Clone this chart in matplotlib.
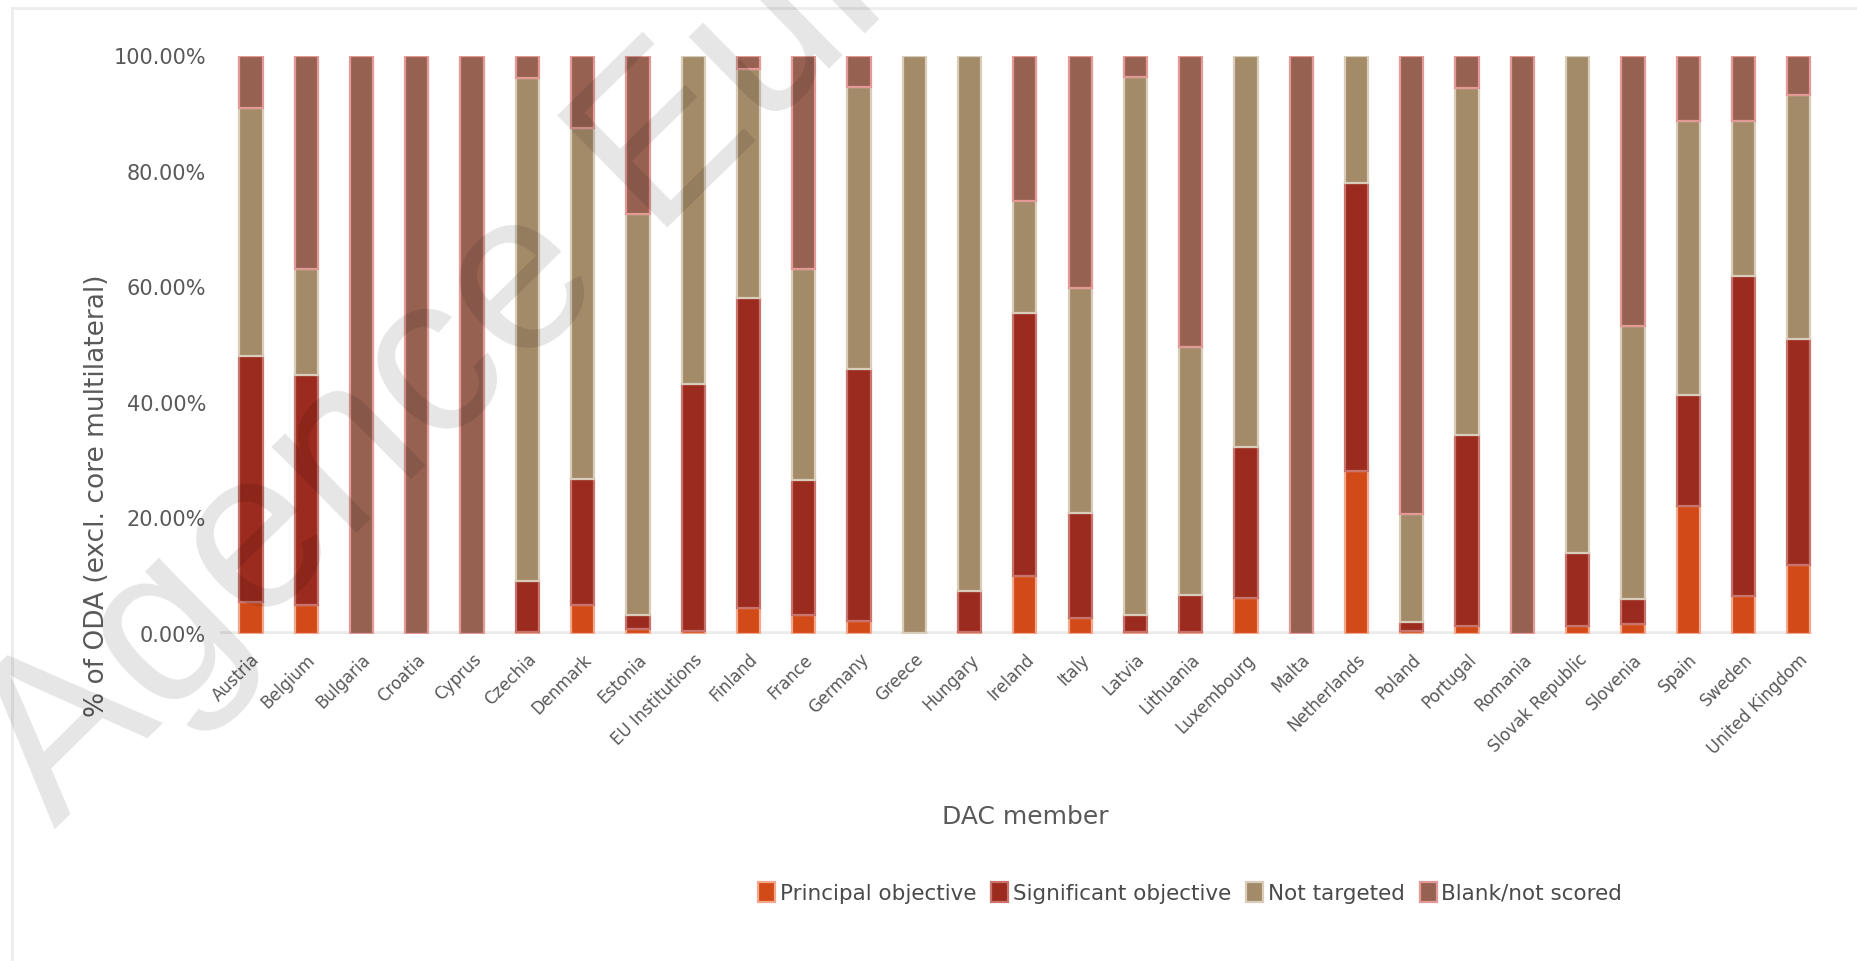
import matplotlib
matplotlib.use("Agg")
import matplotlib.pyplot as plt
from matplotlib.lines import Line2D
from matplotlib.patches import Patch
import numpy as np

countries = ["Austria", "Belgium", "Bulgaria", "Croatia", "Cyprus", "Czechia",
             "Denmark", "Estonia", "EU Institutions", "Finland", "France",
             "Germany", "Greece", "Hungary", "Ireland", "Italy", "Latvia",
             "Lithuania", "Luxembourg", "Malta", "Netherlands", "Poland",
             "Portugal", "Romania", "Slovak Republic", "Slovenia", "Spain",
             "Sweden", "United Kingdom"]

# shares of ODA (%) by marker score
principal = [5.5, 5.1, 0, 0, 0, 0.3, 5.1, 0.8, 0.6, 4.5, 3.3, 2.2, 0.2, 0.3,
             10.0, 2.7, 0.3, 0.3, 6.2, 0, 28.2, 0.5, 1.3, 0, 1.3, 1.7, 22.2,
             6.5, 11.9]
significant = [42.6, 39.7, 0, 0, 0, 8.9, 21.8, 2.5, 42.6, 53.7, 23.4, 43.7,
               0, 7.2, 45.5, 18.3, 3.0, 6.4, 26.1, 0, 49.9, 1.5, 33.2, 0,
               12.8, 4.4, 19.2, 55.5, 39.2]
not_targeted = [42.9, 18.3, 0, 0, 0, 87.0, 60.6, 69.4, 56.8, 39.6, 36.4,
                48.8, 99.8, 92.5, 19.5, 38.9, 93.1, 42.9, 67.7, 0, 21.9,
                18.7, 59.9, 0, 85.9, 47.2, 47.3, 26.7, 42.2]
blank = [9.0, 36.9, 100, 100, 100, 3.8, 12.5, 27.3, 0, 2.2, 36.9, 5.3, 0, 0,
         25.0, 40.1, 3.6, 50.4, 0, 100, 0, 79.3, 5.6, 100, 0, 46.7, 11.3,
         11.3, 6.7]

series_names = ["Principal objective", "Significant objective",
                "Not targeted", "Blank/not scored"]
series_colors = ["#D24A18", "#9C2B1F", "#A38B69", "#966151"]
edge_colors = ["#F2A88C", "#C8736B", "#D9CDBA", "#E39A96"]
y_ticks = [0, 20, 40, 60, 80, 100]

W, H = 1857, 961
fig = plt.figure(figsize=(W / 100, H / 100), dpi=100)
ax = fig.add_axes([220 / W, 1 - 634 / H, (1812 - 220) / W, (634 - 56) / H])

x = np.arange(len(countries))
bottom = np.zeros(len(countries))
for vals, color, ec in zip([principal, significant, not_targeted, blank],
                           series_colors, edge_colors):
    vals = np.asarray(vals, dtype=float)
    ax.bar(x, vals / 100, width=0.42, bottom=bottom / 100, color=color,
           edgecolor=ec, linewidth=[1.6 if v > 0 else 0 for v in vals],
           zorder=2)
    bottom += vals

ax.set_xlim(-0.56, 28.24)
ax.set_ylim(0, 1)
for s in ax.spines.values():
    s.set_visible(False)
ax.axhline(0, color="#EBEBEB", lw=4, zorder=1)

ax.set_yticks([t / 100 for t in y_ticks])
ax.set_yticklabels([f"{t:.2f}%" for t in y_ticks])
ax.tick_params(axis="y", length=0, pad=10, labelsize=15, labelcolor="#595959")
ax.set_xticks(x)
ax.set_xticklabels(countries, rotation=45, ha="right", rotation_mode="anchor")
ax.tick_params(axis="x", length=0, pad=12, labelsize=12, labelcolor="#595959")

fig.text(97 / W, 1 - 496 / H, "% of ODA (excl. core multilateral)",
         rotation=90, ha="center", va="center", fontsize=19, color="#595959")
fig.text(1025 / W, 1 - 817 / H, "DAC member", ha="center", va="center",
         fontsize=18, color="#595959")

handles = [Patch(facecolor=c, edgecolor=e, linewidth=1.6)
           for c, e in zip(series_colors, edge_colors)]
fig.legend(handles, series_names, loc="center", bbox_to_anchor=(1190 / W, 1 - 893 / H),
           ncol=4, frameon=False, fontsize=15.5, handlelength=0.8, handleheight=1.0,
           handletextpad=0.2, columnspacing=0.7, labelcolor="#4a4a4a")

# outer frame
fig.add_artist(Line2D([12 / W, 12 / W], [0, 1 - 8 / H], transform=fig.transFigure,
                      color="#EDEDED", lw=2))
fig.add_artist(Line2D([12 / W, 1], [1 - 8 / H, 1 - 8 / H], transform=fig.transFigure,
                      color="#EDEDED", lw=2))

# watermark
fig.text(55 / W, 1 - 829 / H, "Agence Europe", rotation=44.5,
         rotation_mode="anchor", ha="left", va="baseline",
         fontsize=165, family="Liberation Sans", color=(0, 0, 0, 0.1), zorder=10)

fig.savefig("out.png", dpi=100)
